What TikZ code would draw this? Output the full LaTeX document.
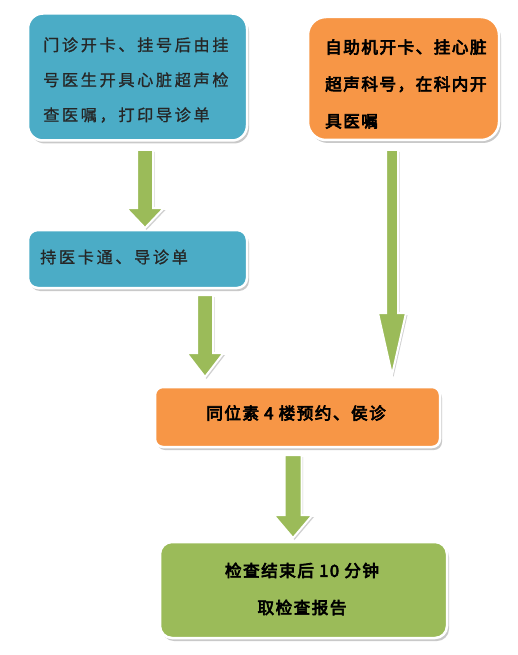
\documentclass[tikz,border=0pt]{standalone}
\usepackage{fontspec}
\newfontfamily\cjk[LetterSpace=16,FakeBold=1]{Noto Sans CJK SC}
\newfontfamily\cjkb[LetterSpace=9,FakeBold=4]{Noto Sans CJK SC}
\usetikzlibrary{shadows,calc}
\definecolor{boxblue}{HTML}{4BACC6}
\definecolor{boxorange}{HTML}{F79646}
\definecolor{boxgreen}{HTML}{9BBB59}
\newcommand\blockarrow[5]{%
  \path[blockarr] let \p1=(#1), \p2=(#2) in
    (\x1-#3pt,\y1) -- (\x1+#3pt,\y1) -- (\x1+#3pt,\y2+#5pt) -- (\x1+#4pt,\y2+#5pt)
    -- (\x1,\y2) -- (\x1-#4pt,\y2+#5pt) -- (\x1-#3pt,\y2+#5pt) -- cycle;}
\begin{document}
\begin{tikzpicture}[x=1pt,y=-1pt,
  box/.style={rectangle, draw=white, line width=2.5pt, inner sep=0pt,
    drop shadow={shadow xshift=2pt, shadow yshift=-3pt, opacity=0.35, fill=black!60}},
  blockarr/.style={fill=boxgreen, draw=white, line width=2pt,
    drop shadow={shadow xshift=1.5pt, shadow yshift=-2pt, opacity=0.3, fill=black!60}},
  txtn/.style={font=\cjk\fontsize{16.2}{35}\selectfont, align=left, inner sep=0pt, text=black!85},
  txtb/.style={font=\cjkb\fontsize{16.6}{37}\selectfont, inner sep=0pt, text=black}]
\useasboundingbox[fill=white] (0,0) rectangle (517,655);
% boxes
\node[box, fill=boxblue, rounded corners=15pt, minimum width=219pt, minimum height=127pt] (b1) at (137.5,77) {};
\node[box, fill=boxorange, rounded corners=18pt, minimum width=191pt, minimum height=123pt] (b2) at (403.5,78.5) {};
\node[box, fill=boxblue, rounded corners=10pt, minimum width=219pt, minimum height=58pt] (b3) at (137.5,259) {};
\node[box, fill=boxorange, rounded corners=8pt, minimum width=285pt, minimum height=60pt] (b4) at (297.5,417) {};
\node[box, fill=boxgreen, rounded corners=12pt, minimum width=287pt, minimum height=96pt] (b5) at (303.5,590) {};
% texts
\node[txtn, anchor=west] (t1) at (43,80) {门诊开卡、挂号后由挂\\号医生开具心脏超声检\\查医嘱，打印导诊单};
\node[txtb, align=left, anchor=west] (t2) at (325,84) {自助机开卡、挂心脏\\超声科号，在科内开\\具医嘱};
\node[txtn, anchor=west] (t3) at (40,257) {持医卡通、导诊单};
\node[txtb] (t4) at (296,413) {同位素 4 楼预约、侯诊};
\node[txtb, align=center] (t5) at (302,589) {检查结束后 10 分钟\\取检查报告};
% arrows
\coordinate (a1s) at (145,150); \coordinate (a1e) at (145,228);
\coordinate (a2s) at (392,150); \coordinate (a2e) at (392,375);
\coordinate (a3s) at (205,295); \coordinate (a3e) at (205,377);
\coordinate (a4s) at (293,455); \coordinate (a4e) at (293,538);
\blockarrow{a1s}{a1e}{8}{19}{20}
\blockarrow{a2s}{a2e}{6}{14}{62}
\blockarrow{a3s}{a3e}{8}{18.5}{24}
\blockarrow{a4s}{a4e}{8.5}{19.5}{23}
\end{tikzpicture}
\end{document}
